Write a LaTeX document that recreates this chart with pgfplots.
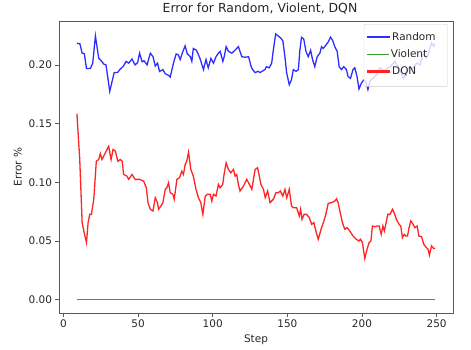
\documentclass[border=0pt]{standalone}
\usepackage{pgfplots}
\pgfplotsset{compat=1.18}
\usepackage{fontspec}
\setmainfont{DejaVu Sans}
\definecolor{lineB}{RGB}{45,45,255}
\definecolor{lineG}{RGB}{55,160,55}
\definecolor{lineR}{RGB}{255,35,35}
\pgfplotstableread{
x y
9 0.2185
11 0.218
12.5 0.210
14 0.2095
15.4 0.197
18 0.197
19.6 0.2015
21.4 0.2247
23.6 0.2058
25 0.204
27 0.2007
28.5 0.200
31 0.1775
34 0.1936
36.3 0.1936
38 0.1964
40 0.1987
42 0.203
43.7 0.2015
45.9 0.205
48 0.200
49.7 0.202
51 0.210
52.7 0.2027
54 0.2035
56 0.200
58.2 0.210
60 0.207
61.5 0.199
63 0.2015
64.4 0.1944
66.6 0.196
68.2 0.1925
70.5 0.191
71.5 0.1896
73.7 0.2015
75.5 0.2093
77 0.2085
78.2 0.2045
80 0.2114
81.5 0.2162
83 0.2093
85 0.207
86 0.203
87 0.214
89 0.2125
90 0.21
91.6 0.205
93.8 0.196
95.5 0.2045
97 0.1975
98.8 0.2055
100.5 0.2015
102.2 0.207
103.8 0.21
105 0.2115
106.8 0.203
107.7 0.207
109 0.2156
110.6 0.2115
112.8 0.21
115 0.2125
117.2 0.2156
119.5 0.207
121.7 0.2065
124 0.207
126 0.1975
128.3 0.1935
130.5 0.1945
131.7 0.1935
135 0.196
136 0.1985
137.8 0.1975
139.5 0.2015
140.6 0.2125
142.2 0.2264
144 0.2245
145.5 0.223
147 0.2205
148.4 0.207
149.5 0.1935
151.3 0.1831
152.8 0.1875
154 0.196
155.8 0.1945
157.4 0.196
158.4 0.2125
159.5 0.2235
161 0.222
162.5 0.2115
164 0.207
165.6 0.2125
166.9 0.2045
168.4 0.1985
170 0.207
171.8 0.21
172.9 0.2155
174 0.214
175.8 0.2168
177.4 0.2195
178.9 0.2236
180.3 0.221
181.8 0.2155
183.4 0.2115
184.7 0.1985
186.3 0.196
187.8 0.1985
189.6 0.196
190.7 0.190
192.3 0.1885
194 0.196
195.2 0.1975
196.7 0.190
198 0.1795
199.6 0.1845
201 0.187
202.5 0.186
204 0.179
205.6 0.187
207.4 0.1885
210 0.192
212 0.1975
215 0.195
218.8 0.1985
222 0.203
225.5 0.196
227.7 0.1885
230 0.195
232 0.1985
234 0.197
236.6 0.2015
239 0.2
241 0.21
243 0.206
244.4 0.209
246.6 0.2187
248 0.216
249 0.218
}\randomdata
\pgfplotstableread{
x y
9 -0.00055
249 -0.00055
249 0.00055
9 0.00055
}\violentdata
\pgfplotstableread{
x y
9 0.1585
10.9 0.1194
12.5 0.0657
13.6 0.0586
15.4 0.0487
16.5 0.0657
17.6 0.0727
18.7 0.0727
20.3 0.0855
22 0.118
23.6 0.1194
24.7 0.1245
25.8 0.1194
28 0.125
30.3 0.1307
31.9 0.1194
33.2 0.128
34.8 0.1265
36.4 0.118
38.1 0.1194
39.3 0.118
40.3 0.1067
42.5 0.1053
43.7 0.1025
45.9 0.1067
48 0.1025
51 0.1025
53.7 0.101
55.5 0.0954
56.6 0.0827
58.2 0.077
60 0.0756
61.5 0.0869
63 0.0827
63.7 0.077
65.3 0.0798
66.6 0.0827
68.2 0.094
69.3 0.0954
70.4 0.0996
71.5 0.0912
73.3 0.0898
74.2 0.0855
76 0.1025
77.8 0.104
79.3 0.1095
80.4 0.1067
81.5 0.115
82.6 0.118
83.8 0.1257
85.3 0.111
87 0.1053
88.8 0.094
90.4 0.0869
92 0.0827
93.4 0.0727
95 0.0883
96.5 0.0898
98.3 0.0898
99.4 0.084
100.5 0.0898
102.2 0.0883
103.8 0.0982
104.9 0.0954
106.7 0.0982
107.6 0.1067
109 0.1166
110.5 0.111
112.1 0.1081
113.9 0.111
115 0.1053
116.1 0.1067
117.2 0.0982
118.3 0.0926
120.6 0.0968
122.8 0.1025
124.6 0.0982
126.2 0.094
128.4 0.111
130 0.1124
131 0.1067
132.3 0.0982
134 0.094
135.2 0.0869
136.8 0.0926
138.4 0.0827
140.6 0.0855
142.4 0.0912
144 0.0912
145.3 0.0926
147 0.0883
148.4 0.094
149.6 0.0869
151.3 0.094
152.8 0.0798
154 0.0784
156.2 0.0784
158 0.0713
158.9 0.077
159.8 0.0685
161.2 0.0727
162.9 0.0727
164.7 0.0699
166.3 0.0642
167.8 0.0657
169.1 0.0586
170.7 0.0515
172.9 0.0614
174.5 0.0671
175.8 0.0727
177.4 0.0821
179.6 0.0827
181.8 0.084
183 0.086
184 0.0827
185.2 0.0756
186.9 0.0657
188.5 0.06
190 0.0614
191.8 0.0586
194 0.0543
196.2 0.0515
198 0.05
199 0.0515
200.3 0.0487
201.9 0.0351
203.4 0.043
204.8 0.0487
206 0.05
207 0.0628
208.5 0.0622
210.1 0.0628
211.5 0.0628
212.9 0.0557
214 0.0628
215 0.0586
216.2 0.0657
217.3 0.0727
218.8 0.0727
220.5 0.077
221.5 0.0742
223.1 0.0685
224.9 0.0642
226 0.0628
227.1 0.0529
228.3 0.0557
229.4 0.0543
230.5 0.0543
231.6 0.0614
232.7 0.0671
234.3 0.0642
235.4 0.0614
237 0.0628
238.1 0.0543
239.9 0.0537
241.4 0.0473
243 0.0445
244.3 0.043
245.2 0.038
246.6 0.0459
248.1 0.0436
249 0.0436
}\dqndata
\pgfplotsset{
 common/.style={
  scale only axis, width=394bp, height=292bp,
  xmin=-3, xmax=261, ymin=-0.0113, ymax=0.2374,
  legend style={draw=none, fill=none, inner sep=0pt, anchor=west,
    font=\fontsize{10.5}{12}\selectfont, text=black!85},
  legend image code/.code={\fill[##1] (0bp,-0.7bp) rectangle (22bp,0.7bp);},
 },
}
\begin{document}
\begin{tikzpicture}
\begin{axis}[common,
 xtick={0,50,100,150,200,250}, ytick={0,0.05,0.1,0.15,0.2},
 yticklabel style={/pgf/number format/.cd, fixed, fixed zerofill, precision=2},
 /pgf/number format/assume math mode=true,
 tick align=outside, xtick pos=bottom, ytick pos=left,
 major tick length=3.5bp,
 axis line style={black!65, line width=0.9pt}, tick style={black!65, line width=0.8pt},
 ticklabel style={font=\fontsize{10.5}{12}\selectfont, text=black!85},
 title={Error for Random, Violent, DQN},
 title style={font=\fontsize{12.5}{14}\selectfont, text=black!85, yshift=-3bp, xshift=4bp},
 xlabel={Step}, ylabel={Error \%},
 label style={font=\fontsize{10.5}{12}\selectfont, text=black!85},
 legend style={at={(0.781,0.945)}},
 legend entries={Random},
]
\addplot[lineB, line width=1.3pt] table[x=x,y=y] {\randomdata};
\draw[black!20, fill=white, fill opacity=0.8, rounded corners=2pt]
  (rel axis cs:0.774,0.775) rectangle (rel axis cs:0.986,0.989);
\end{axis}
\begin{axis}[common, hide axis,
 legend style={at={(0.781,0.885)}},
 legend entries={Violent},
]
\addplot[draw=none, fill=lineG] table[x=x,y=y] {\violentdata};
\end{axis}
\begin{axis}[common, hide axis,
 legend style={at={(0.781,0.826)}},
 legend entries={DQN},
]
\addplot[lineR, line width=1.3pt] table[x=x,y=y] {\dqndata};
\end{axis}
\path (-59bp,-37bp) rectangle (412bp,313bp);
\end{tikzpicture}
\end{document}
